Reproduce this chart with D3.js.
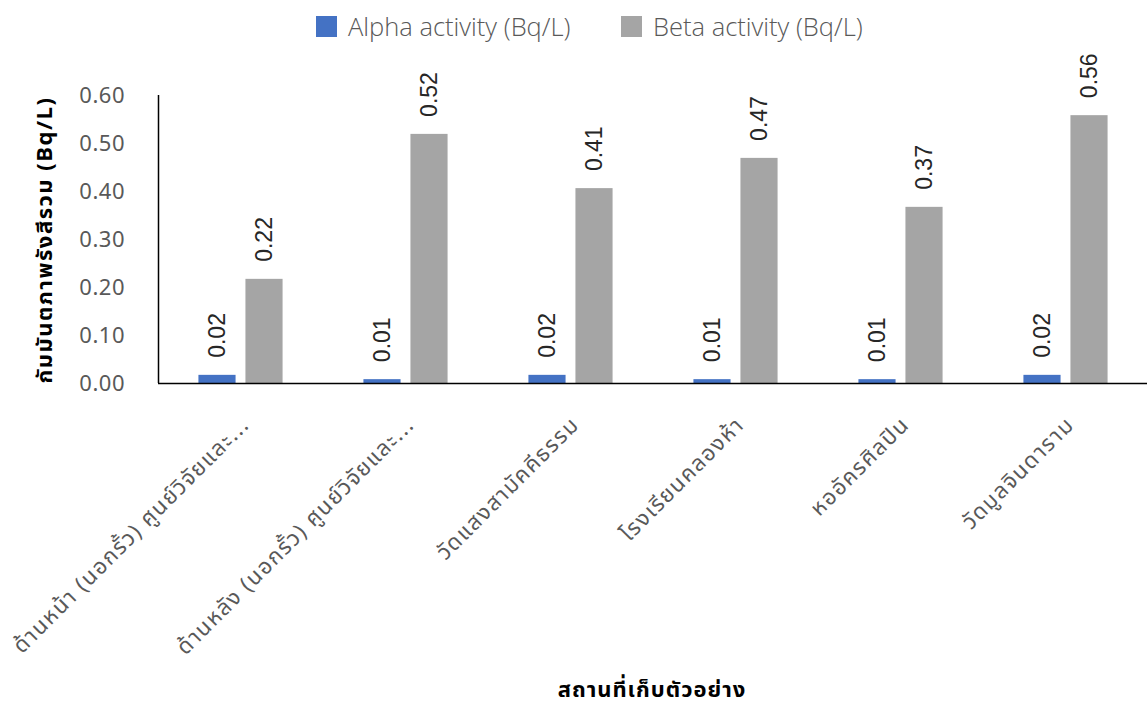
<!DOCTYPE html>
<html>
<head>
<meta charset="utf-8">
<script src="https://cdn.jsdelivr.net/npm/d3@7"></script>
<style>
    body { margin: 0; background: #fff; }
    svg { display: block; }
</style>
</head>
<body>
<svg id="chart_svg"></svg>
<script>
// locations (x categories), as shown on the axis (long ones are cut off like in the original)
var categories = [
    "ด้านหน้า (นอกรั้ว) ศูนย์วิจัยและ...",
    "ด้านหลัง (นอกรั้ว) ศูนย์วิจัยและ...",
    "วัดแสงสามัคคีธรรม",
    "โรงเรียนคลองห้า",
    "หออัครศิลปิน",
    "วัดมูลจินดาราม"
];
var seriesNames = ["Alpha activity (Bq/L)", "Beta activity (Bq/L)"];
var alphaValues = [0.017, 0.008, 0.017, 0.008, 0.008, 0.017];
var betaValues = [0.217, 0.519, 0.406, 0.469, 0.367, 0.558];
var yTicks = [0, 0.1, 0.2, 0.3, 0.4, 0.5, 0.6];
var seriesColors = ["#4472C4", "#A5A5A5"];

var width = 1147, height = 707;
var thaiFont = "'Noto Sans Thai', 'Noto Sans', 'DejaVu Sans', sans-serif";

var svg = d3.select("#chart_svg")
    .attr("width", width)
    .attr("height", height);

var data = categories.map(function (c, i) {
    return { cat: c, values: [alphaValues[i], betaValues[i]] };
});

// scales
var x0 = d3.scaleBand()
    .domain(categories)
    .range([158, 1148])
    .paddingInner(0.49)
    .paddingOuter(0.245);

var x1 = d3.scaleBand()
    .domain([0, 1])
    .range([0, x0.bandwidth()])
    .paddingInner(0.21);

var y = d3.scaleLinear()
    .domain([0, 0.6])
    .range([383, 95]);

// y axis labels (no gridlines in the original)
svg.append("g")
    .selectAll("text")
    .data(yTicks)
    .enter()
    .append("text")
    .attr("x", 125)
    .attr("y", d => y(d))
    .attr("dy", "0.35em")
    .attr("text-anchor", "end")
    .attr("fill", "#595959")
    .style("font-family", thaiFont)
    .style("font-size", "22px")
    .style("letter-spacing", "0.5px")
    .text(d => d3.format(".2f")(d));

// bars
var groups = svg.append("g")
    .selectAll("g")
    .data(data)
    .enter()
    .append("g")
    .attr("transform", d => "translate(" + x0(d.cat) + ",0)");

groups.selectAll("rect")
    .data(d => d.values)
    .enter()
    .append("rect")
    .attr("x", (d, i) => x1(i))
    .attr("width", x1.bandwidth())
    .attr("y", d => y(d))
    .attr("height", d => y(0) - y(d))
    .attr("fill", (d, i) => seriesColors[i]);

// value labels, rotated
groups.selectAll("text")
    .data(d => d.values)
    .enter()
    .append("text")
    .attr("transform", (d, i) => "translate(" + (x1(i) + x1.bandwidth() / 2) + "," + (y(d) - 17) + ") rotate(-90)")
    .attr("dy", "0.35em")
    .attr("text-anchor", "start")
    .attr("fill", "#262626")
    .style("font-family", "'Liberation Sans', Arial, sans-serif")
    .style("font-size", "23px")
    .text(d => d3.format(".2f")(d));

// axis lines
svg.append("line")
    .attr("x1", 158.5).attr("x2", 158.5)
    .attr("y1", 95).attr("y2", y(0))
    .attr("stroke", "#000")
    .attr("stroke-width", 1.5);

svg.append("line")
    .attr("x1", 158).attr("x2", 1147)
    .attr("y1", y(0) + 0.5).attr("y2", y(0) + 0.5)
    .attr("stroke", "#000")
    .attr("stroke-width", 1.5);

// category labels at -45 degrees
svg.append("g")
    .selectAll("text")
    .data(categories)
    .enter()
    .append("text")
    .attr("transform", d => "translate(" + (x0(d) + x0.bandwidth() / 2 + 10) + ",426) rotate(-45)")
    .attr("text-anchor", "end")
    .attr("fill", "#595959")
    .style("font-family", thaiFont)
    .style("font-size", "22px")
    .style("letter-spacing", "1.5px")
    .text(d => d);

// axis titles
svg.append("text")
    .attr("transform", "translate(52,240) rotate(-90)")
    .attr("text-anchor", "middle")
    .attr("fill", "#000")
    .style("font-family", thaiFont)
    .style("font-weight", "bold")
    .style("font-size", "22px")
    .style("letter-spacing", "1.5px")
    .text("กัมมันตภาพรังสีรวม (Bq/L)");

svg.append("text")
    .attr("x", 652)
    .attr("y", 697)
    .attr("text-anchor", "middle")
    .attr("fill", "#000")
    .style("font-family", thaiFont)
    .style("font-weight", "bold")
    .style("font-size", "22px")
    .style("letter-spacing", "1px")
    .text("สถานที่เก็บตัวอย่าง");

// legend
var legendX = [316, 621];
var legend = svg.append("g")
    .selectAll("g")
    .data(seriesNames)
    .enter()
    .append("g")
    .attr("transform", (d, i) => "translate(" + legendX[i] + ",16)");

legend.append("rect")
    .attr("width", 21)
    .attr("height", 21)
    .attr("fill", (d, i) => seriesColors[i]);

legend.append("text")
    .attr("x", 32)
    .attr("y", 11)
    .attr("dy", "0.35em")
    .attr("fill", "#595959")
    .style("font-family", "'Open Sans', 'Noto Sans', sans-serif")
    .style("font-weight", 300)
    .style("font-size", "25.5px")
    .text(d => d);
</script>
</body>
</html>
